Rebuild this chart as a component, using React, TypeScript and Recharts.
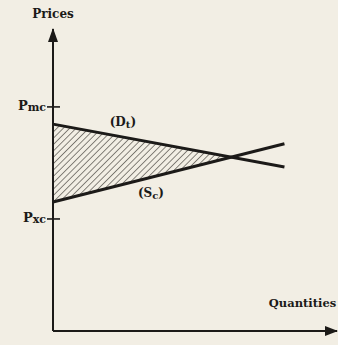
import React from 'react';
import { ComposedChart, Line, Area, XAxis, YAxis, ReferenceDot } from 'recharts';

// price levels on the vertical axis
const PMC = 7.42;
const PXC = 3.71;
const PRICE_TICKS = [PXC, PMC];

// demand (Dt) and supply (Sc) lines
const QTY = [0, 8.15];
const DEMAND = [6.85, 5.43];
const SUPPLY = [4.27, 6.2];

// hatched gap between the two lines, up to where they cross
const GAP_QTY = [0, 6.3];
const GAP_LOW = [4.27, 5.75];
const GAP_HIGH = [6.85, 5.75];

const demandData = QTY.map((q, i) => ({ q, p: DEMAND[i] }));
const supplyData = QTY.map((q, i) => ({ q, p: SUPPLY[i] }));
const gapData = GAP_QTY.map((q, i) => ({ q, range: [GAP_LOW[i], GAP_HIGH[i]] }));

const INK = '#1c1a18';
const PAPER = '#f2eee4';
const FONT = '"DejaVu Serif", serif';

const PriceTick = (props: any) => {
  const { x, y, payload } = props;
  const main = payload.value === PMC ? 'mc' : 'xc';
  return (
    <g>
      <line x1={x - 6} x2={x + 7} y1={y} y2={y} stroke={INK} strokeWidth={1.6} />
      <text x={x - 7} y={y + 3} textAnchor="end" fill={INK} fontFamily={FONT} fontWeight="bold" fontSize={13}>
        P<tspan fontSize={11} dy={1}>{main}</tspan>
      </text>
    </g>
  );
};

const textShape = (main: string, sub?: string, anchor: string = 'middle', size: number = 12) => (props: any) => (
  <text
    x={props.cx}
    y={props.cy}
    textAnchor={anchor}
    dominantBaseline="central"
    fill={INK}
    fontFamily={FONT}
    fontWeight="bold"
    fontSize={size}
  >
    {main}
    {sub ? (
      <>
        <tspan fontSize={10} dy={2}>{sub}</tspan>
        <tspan dy={-2}>)</tspan>
      </>
    ) : null}
  </text>
);

const upArrow = (props: any) => {
  const { cx, cy } = props;
  return <path d={`M${cx},${cy - 1} L${cx - 5},${cy + 13} L${cx + 5},${cy + 13} Z`} fill={INK} />;
};

const rightArrow = (props: any) => {
  const { cx, cy } = props;
  return <path d={`M${cx + 1},${cy} L${cx - 12},${cy - 5} L${cx - 12},${cy + 5} Z`} fill={INK} />;
};

export default function App() {
  return (
    <div style={{ position: 'fixed', left: 0, top: 0, width: 338, height: 345, background: PAPER }}>
      <ComposedChart width={338} height={345} margin={{ top: 29, right: 1, bottom: 0, left: 0 }}>
        <defs>
          <pattern id="hatch" width={4.5} height={4.5} patternUnits="userSpaceOnUse" patternTransform="rotate(45)">
            <line x1={0} y1={0} x2={0} y2={4.5} stroke="#2a2622" strokeWidth={1.1} />
          </pattern>
        </defs>
        <XAxis
          type="number"
          dataKey="q"
          domain={[0, 10]}
          height={14}
          tick={false}
          tickLine={false}
          axisLine={{ stroke: INK, strokeWidth: 2 }}
          allowDuplicatedCategory={false}
        />
        <YAxis
          type="number"
          domain={[0, 10]}
          width={53}
          ticks={PRICE_TICKS}
          tick={<PriceTick />}
          tickSize={0}
          tickMargin={0}
          tickLine={false}
          axisLine={{ stroke: INK, strokeWidth: 2 }}
        />
        <Area
          data={gapData}
          dataKey="range"
          type="linear"
          stroke="none"
          fill="url(#hatch)"
          fillOpacity={1}
          isAnimationActive={false}
        />
        <Line data={demandData} dataKey="p" type="linear" stroke={INK} strokeWidth={3} dot={false} isAnimationActive={false} />
        <Line data={supplyData} dataKey="p" type="linear" stroke={INK} strokeWidth={3} dot={false} isAnimationActive={false} />
        <ReferenceDot x={0} y={10} r={0} shape={upArrow} ifOverflow="visible" />
        <ReferenceDot x={10} y={0} r={0} shape={rightArrow} ifOverflow="visible" />
        <ReferenceDot x={0} y={10.5} r={0} shape={textShape('Prices')} ifOverflow="visible" />
        <ReferenceDot x={7.6} y={0.93} r={0} shape={textShape('Quantities', undefined, 'start', 11.5)} ifOverflow="visible" />
        <ReferenceDot x={2.46} y={6.92} r={0} shape={textShape('(D', 't')} ifOverflow="visible" />
        <ReferenceDot x={3.45} y={4.57} r={0} shape={textShape('(S', 'c')} ifOverflow="visible" />
      </ComposedChart>
    </div>
  );
}
